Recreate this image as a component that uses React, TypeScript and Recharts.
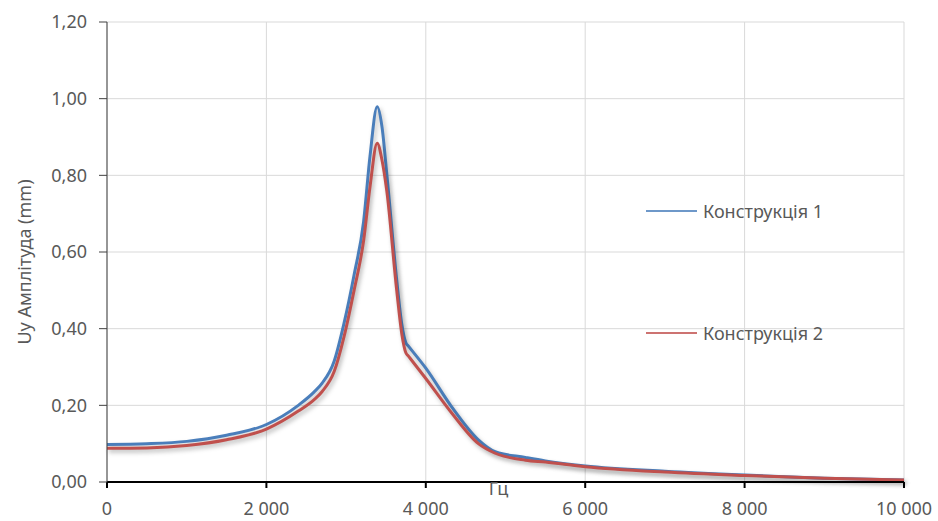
import { CartesianGrid, Legend, Line, LineChart, XAxis, YAxis } from "recharts";

// frequency, Hz
const freq = [
  0, 500, 1000, 1500, 2000, 2400, 2600, 2700, 2850, 2975, 3100, 3220, 3300, 3390, 3450, 3510,
  3635, 3700, 3750, 3780, 4000, 4325, 4660, 4870, 5250, 5500, 6000, 7000, 8000, 9000, 10000,
];

// Uy amplitude, mm
const construction1 = [
  0.098, 0.1, 0.106, 0.122, 0.15, 0.2, 0.235, 0.258, 0.315, 0.415, 0.54, 0.68, 0.85, 0.979, 0.927, 0.805,
  0.527, 0.41, 0.363, 0.355, 0.297, 0.196, 0.11, 0.079, 0.064, 0.055, 0.042, 0.028, 0.018, 0.01, 0.005,
];
const construction2 = [
  0.088, 0.089, 0.095, 0.11, 0.138, 0.185, 0.215, 0.236, 0.288, 0.38, 0.5, 0.63, 0.77, 0.884, 0.84, 0.76,
  0.5, 0.385, 0.337, 0.329, 0.27, 0.18, 0.1, 0.075, 0.057, 0.052, 0.04, 0.026, 0.017, 0.01, 0.005,
];

const xTicks = [0, 2000, 4000, 6000, 8000, 10000];
const yTicks = [0, 0.2, 0.4, 0.6, 0.8, 1.0, 1.2];

const data = freq.map((f, i) => ({ f, c1: construction1[i], c2: construction2[i] }));

const FONT = "'Noto Sans', sans-serif";
const GRAY = "#595959";

const fmtX = (v: number) => (v === 0 ? "0" : `${v / 1000} 000`);
const fmtY = (v: number) => v.toFixed(2).replace(".", ",");

const renderLegend = (props: any) => {
  const { payload = [] } = props;
  return (
    <div style={{ fontFamily: FONT, fontSize: 18, color: GRAY }}>
      {payload.map((p: any, i: number) => (
        <div
          key={p.value}
          style={{ display: "flex", alignItems: "center", height: 24, marginTop: i === 0 ? 0 : 98 }}
        >
          <span style={{ display: "inline-block", width: 51, height: 2, background: p.color, opacity: 0.8, marginRight: 6 }} />
          <span>{p.value}</span>
        </div>
      ))}
    </div>
  );
};

const yLabel = (props: any) => {
  const { viewBox } = props;
  const cx = viewBox.x + 24;
  const cy = viewBox.y + viewBox.height / 2 + 10;
  return (
    <text
      x={cx}
      y={cy}
      transform={`rotate(-90, ${cx}, ${cy})`}
      textAnchor="middle"
      dominantBaseline="central"
      fill={GRAY}
      fontSize={18}
      fontFamily={FONT}
    >
      Uy Амплітуда (mm)
    </text>
  );
};

const App = () => (
  <div style={{ position: "absolute", left: 0, top: 0, background: "#fff" }}>
    <LineChart width={938} height={521} data={data} margin={{ top: 22, right: 34, bottom: 0, left: 0 }}>
      <CartesianGrid stroke="#d9d9d9" strokeWidth={1} />
      <XAxis
        dataKey="f"
        type="number"
        domain={[0, 10000]}
        ticks={xTicks}
        tickFormatter={fmtX}
        height={39}
        stroke="#000"
        strokeWidth={2}
        tickSize={6}
        tickMargin={14}
        tick={{ fill: GRAY, fontSize: 18, fontFamily: FONT }}
        label={{ value: "Гц", position: "insideTop", offset: 0, dx: -7, fill: GRAY, fontSize: 18, fontFamily: FONT }}
      />
      <YAxis
        type="number"
        domain={[0, 1.2]}
        ticks={yTicks}
        tickFormatter={fmtY}
        width={107}
        stroke="#404040"
        tickSize={8}
        tickMargin={12}
        tick={{ fill: GRAY, fontSize: 18, fontFamily: FONT }}
        label={yLabel}
      />
      <Legend
        layout="vertical"
        verticalAlign="middle"
        align="center"
        content={renderLegend}
        wrapperStyle={{ left: 646, top: 199, width: 240 }}
      />
      <Line
        dataKey="c1"
        name="Конструкція 1"
        type="monotone"
        stroke="#4a7ebb"
        strokeWidth={3}
        dot={false}
        style={{ filter: "drop-shadow(2px 3px 2px rgba(0,0,0,0.25))" }}
        isAnimationActive={false}
      />
      <Line
        dataKey="c2"
        name="Конструкція 2"
        type="monotone"
        stroke="#c0504d"
        strokeWidth={3}
        dot={false}
        style={{ filter: "drop-shadow(2px 3px 2px rgba(0,0,0,0.25))" }}
        isAnimationActive={false}
      />
    </LineChart>
  </div>
);

export default App;
